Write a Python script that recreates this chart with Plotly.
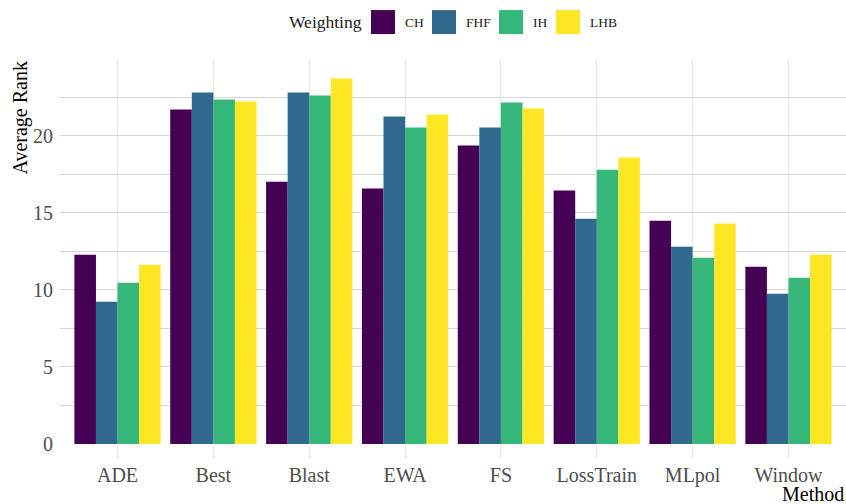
import plotly.graph_objects as go

methods = ["ADE", "Best", "Blast", "EWA", "FS", "LossTrain", "MLpol", "Window"]
weightings = ["CH", "FHF", "IH", "LHB"]
colors = ["#440154", "#31688E", "#35B779", "#FDE725"]

ch = [12.27, 21.69, 17.01, 16.56, 19.35, 16.43, 14.48, 11.49]
fhf = [9.22, 22.79, 22.79, 21.23, 20.52, 14.61, 12.79, 9.74]
ih = [10.45, 22.34, 22.60, 20.52, 22.14, 17.79, 12.08, 10.78]
lhb = [11.62, 22.21, 23.70, 21.36, 21.75, 18.57, 14.29, 12.27]
series = [ch, fhf, ih, lhb]

y_ticks = [0, 5, 10, 15, 20]

FONT = "Liberation Serif"
W, H = 846, 504
L, R, T, B = 60, 0, 60, 59.5
pw, ph = W - L - R, H - T - B

fig = go.Figure()
for name, vals, col in zip(weightings, series, colors):
    fig.add_trace(go.Bar(x=methods, y=vals, name=name, marker=dict(color=col, line=dict(width=0)),
                         showlegend=False))

# helpers: page pixel -> paper coords
def px_x(p):
    return (p - L) / pw

def px_y(p):
    return (H - B - p) / ph

legend_boxes = [371, 432, 499, 556]
for i, (name, col) in enumerate(zip(weightings, colors)):
    x0 = legend_boxes[i]
    fig.add_shape(type="rect", xref="paper", yref="paper",
                  x0=px_x(x0), x1=px_x(x0 + 24), y0=px_y(34), y1=px_y(10),
                  fillcolor=col, line=dict(width=0))
    fig.add_annotation(xref="paper", yref="paper", x=px_x(x0 + 32), y=px_y(22),
                       text=name, showarrow=False, xanchor="left", yanchor="middle",
                       font=dict(family=FONT, size=13.5, color="#1a1a1a"))
fig.add_annotation(xref="paper", yref="paper", x=px_x(364), y=px_y(22),
                   text="Weighting", showarrow=False, xanchor="right", yanchor="middle",
                   font=dict(family=FONT, size=17.5, color="#1a1a1a"))

# axis titles
fig.add_annotation(xref="paper", yref="paper", x=px_x(20), y=1.0,
                   text="Average Rank", showarrow=False, textangle=-90,
                   xanchor="center", yanchor="top",
                   font=dict(family=FONT, size=20, color="#000000"))
fig.add_annotation(xref="paper", yref="paper", x=1.0, y=px_y(494.5),
                   text="Method", showarrow=False, xanchor="right", yanchor="middle",
                   font=dict(family=FONT, size=20, color="#000000"))

fig.update_layout(
    width=W, height=H,
    margin=dict(l=L, r=R, t=T, b=B),
    barmode="group", bargap=0.1, bargroupgap=0,
    plot_bgcolor="white", paper_bgcolor="white",
    font=dict(family=FONT, size=20, color="#4d4d4d"),
    xaxis=dict(
        type="category", range=[-0.6, 7.6],
        showgrid=True, gridcolor="#e3e3e3", gridwidth=1,
        ticks="outside", ticklen=13, tickcolor="#e3e3e3", tickwidth=1,
        tickfont=dict(family=FONT, size=20, color="#4d4d4d"),
        showline=False, zeroline=False,
    ),
    yaxis=dict(
        range=[0, 24.9], tickvals=y_ticks,
        showgrid=True, gridcolor="#d6d6d6", gridwidth=1,
        minor=dict(tick0=2.5, dtick=5, showgrid=True, gridcolor="#d6d6d6", gridwidth=1),
        ticks="", ticklabelstandoff=6,
        tickfont=dict(family=FONT, size=20, color="#4d4d4d"),
        showline=False, zeroline=False,
    ),
)

fig.write_html(
    "out.html",
    config={"displayModeBar": False},
    post_script="document.body.style.margin='0';document.body.style.overflow='hidden';",
)
